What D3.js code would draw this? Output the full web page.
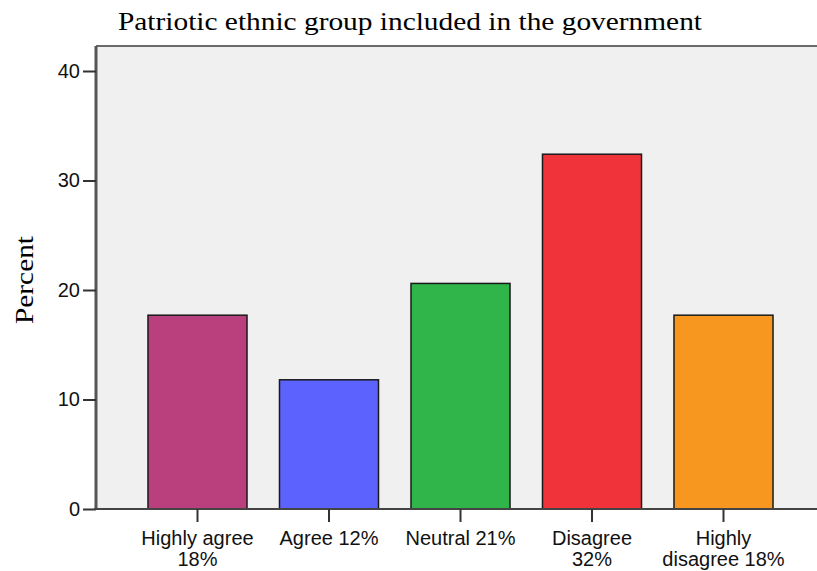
<!DOCTYPE html>
<html>
<head>
<meta charset="utf-8">
<script src="https://cdn.jsdelivr.net/npm/d3@7"></script>
<style>
  html, body { margin: 0; padding: 0; background: #ffffff; }
  svg { display: block; }
</style>
</head>
<body>
<div id="chart"></div>
<script>
// ---- data ----
const categories = ["Highly agree 18%", "Agree 12%", "Neutral 21%", "Disagree 32%", "Highly disagree 18%"];
const labelLines = [["Highly agree", "18%"], ["Agree 12%"], ["Neutral 21%"], ["Disagree", "32%"], ["Highly", "disagree 18%"]];
const values = [17.7, 11.8, 20.6, 32.4, 17.7];
const colors = ["#b93f7d", "#5c62fe", "#2fb54a", "#f0323a", "#f7971f"];
const yTicks = [0, 10, 20, 30, 40];
const titleText = "Patriotic ethnic group included in the government";
const yLabel = "Percent";

// ---- layout ----
const W = 817, H = 571;
const plotLeft = 96, plotRight = 817, plotTop = 46, plotBottom = 509;

const svg = d3.select("#chart").append("svg").attr("width", W).attr("height", H);

const y = d3.scaleLinear().domain([0, 40]).range([plotBottom, 71]);
const x = d3.scaleBand().domain(categories).range([131.75, 789.25])
  .paddingInner(0.247).paddingOuter(0.1235);

// plot background
svg.append("rect").attr("x", plotLeft).attr("y", plotTop)
  .attr("width", plotRight - plotLeft).attr("height", plotBottom - plotTop)
  .attr("fill", "#f0f0f0");

// top border
svg.append("line").attr("x1", plotLeft).attr("x2", plotRight)
  .attr("y1", plotTop).attr("y2", plotTop)
  .attr("stroke", "#6a6a6a").attr("stroke-width", 2);

// bars
svg.selectAll("rect.bar").data(categories).enter().append("rect")
  .attr("class", "bar")
  .attr("x", d => x(d))
  .attr("y", (d, i) => y(values[i]))
  .attr("width", x.bandwidth())
  .attr("height", (d, i) => y(0) - y(values[i]))
  .attr("fill", (d, i) => colors[i])
  .attr("stroke", "#1a1a1a").attr("stroke-width", 1.5);

// y axis
const yAxis = d3.axisLeft(y).tickValues(yTicks).tickSize(13).tickPadding(3);
const gy = svg.append("g").attr("transform", `translate(${plotLeft},0)`).call(yAxis);
gy.select(".domain").attr("d", `M0,${plotTop}V${plotBottom}`)
  .attr("stroke", "#555").attr("stroke-width", 3);
gy.selectAll(".tick line").attr("stroke", "#333").attr("stroke-width", 2);
gy.selectAll(".tick text").attr("font-family", "Arial, 'Liberation Sans', sans-serif")
  .attr("font-size", 20).attr("fill", "#111");

// x axis
const xAxis = d3.axisBottom(x).tickSize(13).tickFormat("");
const gx = svg.append("g").attr("transform", `translate(0,${plotBottom})`).call(xAxis);
gx.select(".domain").attr("d", `M${plotLeft - 2},0H${plotRight}`)
  .attr("stroke", "#444").attr("stroke-width", 2);
gx.selectAll(".tick line").attr("stroke", "#333").attr("stroke-width", 2);
gx.selectAll(".tick").each(function(d, i) {
  const t = d3.select(this).append("text")
    .attr("font-family", "Arial, 'Liberation Sans', sans-serif")
    .attr("font-size", 20).attr("fill", "#111")
    .attr("text-anchor", "middle");
  labelLines[i].forEach((ln, j) => {
    t.append("tspan").attr("x", 0).attr("y", 36 + j * 21).text(ln);
  });
});

// title
svg.append("text").attr("x", 410).attr("y", 30)
  .attr("text-anchor", "middle")
  .attr("font-family", "'Times New Roman', 'Liberation Serif', serif")
  .attr("font-size", 26).attr("fill", "#000")
  .attr("textLength", 584).attr("lengthAdjust", "spacingAndGlyphs")
  .text(titleText);

// y label
svg.append("text").attr("transform", `translate(33,280) rotate(-90)`)
  .attr("text-anchor", "middle")
  .attr("font-family", "'Times New Roman', 'Liberation Serif', serif")
  .attr("font-size", 25).attr("fill", "#000")
  .attr("textLength", 88).attr("lengthAdjust", "spacingAndGlyphs")
  .text(yLabel);
</script>
</body>
</html>
